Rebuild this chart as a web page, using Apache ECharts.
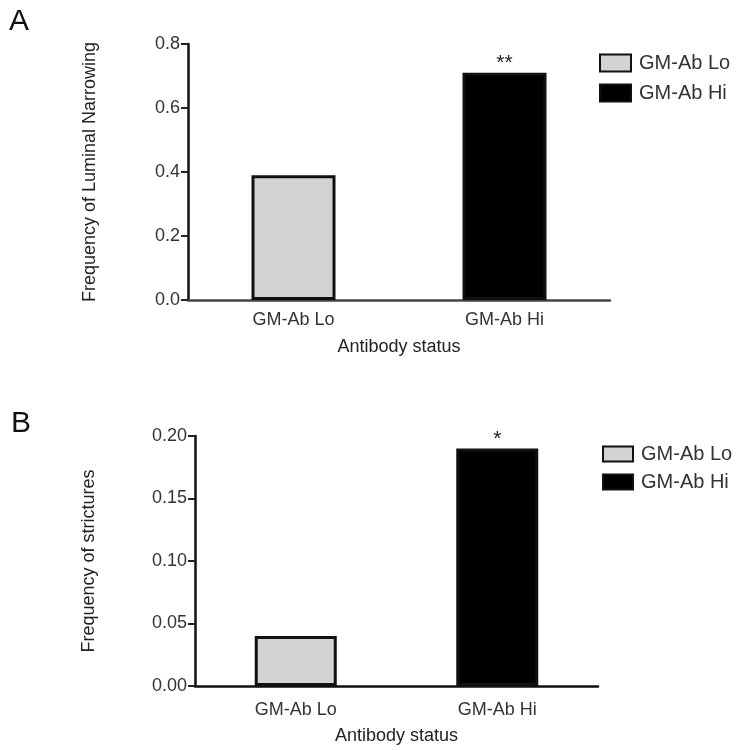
<!DOCTYPE html>
<html>
<head>
<meta charset="utf-8">
<script src="https://cdn.jsdelivr.net/npm/echarts@6/dist/echarts.min.js"></script>
<style>html,body{margin:0;padding:0;background:#fff;}#c{width:736px;height:750px;}</style>
</head>
<body>
<div id="c"></div>
<script>
const categories = ['GM-Ab Lo', 'GM-Ab Hi'];
const seriesNames = ['GM-Ab Lo', 'GM-Ab Hi'];
const luminalValues = [0.39, 0.71];
const strictureValues = [0.04, 0.19];
const luminalMarks = ['', '**'];
const strictureMarks = ['', '*'];
const luminalTicks = ['0.0', '0.2', '0.4', '0.6', '0.8'];
const strictureTicks = ['0.00', '0.05', '0.10', '0.15', '0.20'];
const panelLetters = ['A', 'B'];
const yNames = ['Frequency of Luminal Narrowing', 'Frequency of strictures'];
const xName = 'Antibody status';

const FONT = '"Liberation Sans", Arial, sans-serif';
const fills = ['#d3d3d3', '#000000'];

function makeSeries(values, marks, idx, barW) {
  return seriesNames.map((name, i) => ({
    name: name,
    type: 'bar',
    xAxisIndex: idx,
    yAxisIndex: idx,
    barWidth: barW,
    barGap: '-100%',
    data: categories.map((c, j) => j === i ? values[j] : '-'),
    itemStyle: { color: fills[i], borderColor: '#111', borderWidth: 3 },
    label: {
      show: true, position: 'top', distance: -1,
      formatter: p => marks[p.dataIndex], color: '#222', fontSize: 21, fontFamily: FONT
    },
    emphasis: { disabled: true }
  }));
}

function xAxis(idx, gap, lineColor, margin) {
  return {
    type: 'category', gridIndex: idx, data: categories,
    name: xName, nameLocation: 'middle', nameGap: gap,
    nameTextStyle: { color: '#222', fontSize: 18, fontFamily: FONT },
    axisLine: { lineStyle: { color: lineColor, width: 2.5 } },
    axisTick: { alignWithLabel: true, length: 7, lineStyle: { color: '#222', width: 2 } },
    axisLabel: { color: '#333', fontSize: 18, fontFamily: FONT, margin: margin }
  };
}

function yAxis(idx, max, interval, ticks, gap) {
  return {
    type: 'value', gridIndex: idx, min: 0, max: max, interval: interval,
    name: yNames[idx], nameLocation: 'middle', nameGap: gap,
    nameTextStyle: { color: '#222', fontSize: 18, fontFamily: FONT },
    splitLine: { show: false },
    axisLine: { show: true, lineStyle: { color: '#111', width: 2.5 } },
    axisTick: { show: true, length: 7, lineStyle: { color: '#222', width: 2 } },
    axisLabel: {
      color: '#333', fontSize: 18, fontFamily: FONT, margin: 8,
      formatter: v => ticks[Math.round(v / interval)]
    }
  };
}

const chart = echarts.init(document.getElementById('c'), null, { renderer: 'canvas' });
chart.setOption({
  animation: false,
  backgroundColor: '#fff',
  textStyle: { fontFamily: FONT },
  title: [
    { text: panelLetters[0], left: 4, top: 2, textStyle: { fontSize: 30, fontWeight: 'normal', color: '#111', fontFamily: FONT } },
    { text: panelLetters[1], left: 6, top: 404, textStyle: { fontSize: 30, fontWeight: 'normal', color: '#111', fontFamily: FONT } }
  ],
  legend: [
    { orient: 'vertical', left: 594, top: 48, itemWidth: 31, itemHeight: 17, itemGap: 10,
      icon: 'rect', data: seriesNames, selectedMode: false,
      textStyle: { color: '#333', fontSize: 20, fontFamily: FONT, padding: [0, 0, 0, 3] } },
    { orient: 'vertical', left: 597, top: 439, itemWidth: 30, itemHeight: 15, itemGap: 8,
      icon: 'rect', data: seriesNames, selectedMode: false,
      textStyle: { color: '#333', fontSize: 20, fontFamily: FONT, padding: [0, 0, 0, 3] } }
  ],
  grid: [
    { left: 188, width: 422, top: 44, height: 256 },
    { left: 195, width: 403, top: 436, height: 250 }
  ],
  xAxis: [xAxis(0, 38, '#444', 11), xAxis(1, 41, '#111', 15)],
  yAxis: [yAxis(0, 0.8, 0.2, luminalTicks, 89), yAxis(1, 0.2, 0.05, strictureTicks, 97)],
  series: [
    ...makeSeries(luminalValues, luminalMarks, 0, 84),
    ...makeSeries(strictureValues, strictureMarks, 1, 82)
  ]
});
</script>
</body>
</html>
